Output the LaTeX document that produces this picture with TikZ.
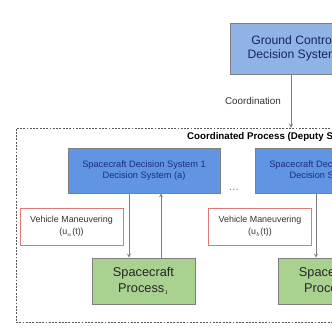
\documentclass[tikz,border=0pt]{standalone}
\usepackage{fontspec}
\setmainfont{Liberation Sans}
\usepackage{xcolor}
\usetikzlibrary{positioning}
\definecolor{groundblue}{HTML}{8FB3E4}
\definecolor{decblue}{HTML}{6294E4}
\definecolor{dectext}{HTML}{1C2F78}
\definecolor{procgreen}{HTML}{A9D18F}
\definecolor{edgegray}{HTML}{7F7F7F}
\definecolor{manred}{HTML}{E07A7A}
\begin{document}
\begin{tikzpicture}[x=0.03cm, y=-0.03cm, >=stealth,
        control/.style={rectangle, draw=edgegray, fill=groundblue, line width=0.6pt,
                      minimum width=126*0.03cm, minimum height=51*0.03cm,
                      font=\fontsize{10.4}{12.5}\selectfont, text=dectext!80!black, align=center},
        decision/.style={rectangle, draw=edgegray, fill=decblue, line width=0.5pt,
                      minimum width=152*0.03cm, minimum height=45*0.03cm,
                      font=\fontsize{7.9}{10}\selectfont, text=dectext, align=center},
        process/.style={rectangle, draw=edgegray, fill=procgreen, line width=0.5pt,
                      minimum width=103*0.03cm, minimum height=46*0.03cm,
                      font=\fontsize{10.9}{13.5}\selectfont, text=black!85, align=center},
        maneuver/.style={rectangle, draw=manred, fill=white, line width=0.5pt,
                      minimum width=103*0.03cm, minimum height=37*0.03cm,
                      font=\fontsize{7.6}{10.5}\selectfont, text=black!80, align=center},
        link/.style={->, draw=edgegray, line width=0.6pt}]
        \useasboundingbox (0,0) rectangle (332,332);
        \clip (0,0) rectangle (332,332);
        \fill[white] (0,0) rectangle (332,332);

        \node[rectangle, draw=black!65, dash pattern=on 1.6pt off 1.2pt, line width=0.4pt,
              minimum width=544*0.03cm, minimum height=194*0.03cm] (coord) at (288,225) {};
        \node[anchor=west, font=\fontsize{8.3}{10}\selectfont\bfseries] (title) at (183,136.5)
              {Coordinated Process (Deputy Spacecraft)};

        \node[control] (ground) at (293,48.5) {Ground Control\\Decision System};
        \draw[link] (291,0 |- ground.south) -- node[left=5pt, font=\fontsize{8.4}{10}\selectfont, text=black!80] (coordlbl) {Coordination} (291,0 |- coord.north);

        \node[decision] (dec1) at (144,170.5) {Spacecraft Decision System 1\\Decision System (a)};
        \node[decision] (dec2) at (331,170.5) {Spacecraft Decision System 2\\Decision System (b)};
        \node[font=\small, text=black!55] (dots) at (234,190) {\dots};

        \node[process] (proc1) at (143.5,281) {Spacecraft\\Process$_{\scriptscriptstyle 1}$};
        \node[process] (proc2) at (329.5,281) {Spacecraft\\Process$_{\scriptscriptstyle 2}$};

        \node[maneuver] (man1) at (71.5,226.5) {Vehicle Maneuvering\\(u$_{\scriptscriptstyle a}$(t))};
        \node[maneuver] (man2) at (260,226.5) {Vehicle Maneuvering\\(u$_{\scriptscriptstyle b}$(t))};

        \draw[link] (dec1.south -| 129,0) -- (proc1.north -| 129,0);
        \draw[link] (proc1.north -| 161,0) -- (dec1.south -| 161,0);
        \draw[link] (dec2.south -| 316,0) -- (proc2.north -| 316,0);
    \end{tikzpicture}
\end{document}
